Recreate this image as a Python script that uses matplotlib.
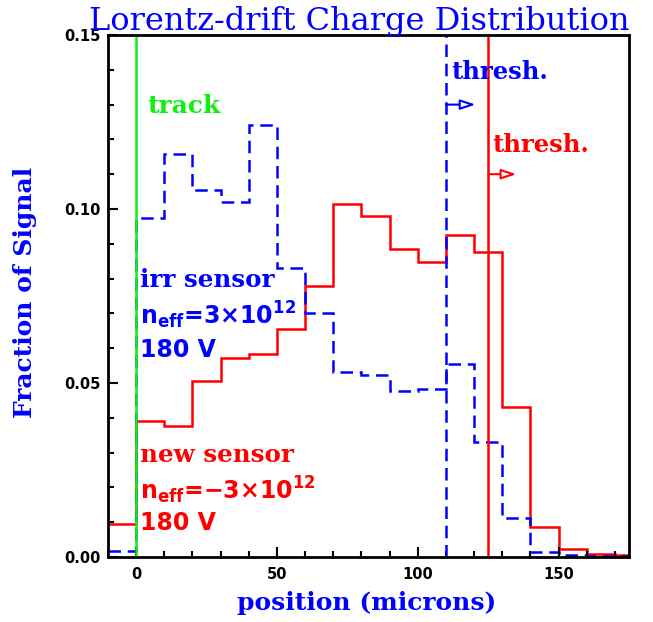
import numpy as np
import matplotlib
matplotlib.use("Agg")
import matplotlib.pyplot as plt
from matplotlib.ticker import MultipleLocator

plt.rcParams['mathtext.fontset'] = 'custom'
plt.rcParams['mathtext.rm'] = 'DejaVu Sans:bold'
plt.rcParams['mathtext.it'] = 'DejaVu Sans:bold'
plt.rcParams['mathtext.bf'] = 'DejaVu Sans:bold'

# bin edges (microns), 10 micron bins
edges = np.arange(-10, 190, 10)

# new sensor (red, solid)
new_sensor = [0.0094, 0.0390, 0.0377, 0.0506, 0.0573, 0.0582, 0.0654, 0.0779,
              0.1013, 0.0980, 0.0884, 0.0847, 0.0925, 0.0876, 0.0430, 0.0087,
              0.0023, 0.0008, 0.0005]

# irradiated sensor (blue, dashed)
irr_sensor = [0.0018, 0.0975, 0.1157, 0.1055, 0.1021, 0.1240, 0.0831, 0.0700,
              0.0533, 0.0522, 0.0476, 0.0483, 0.0554, 0.0331, 0.0113, 0.0015,
              0.0005, 0.0003, 0.0002]

track_x = 0
irr_thresh = 110
new_thresh = 125

serif = 'DejaVu Serif'
sans = 'DejaVu Sans'
dash = (0, (5, 2.7))

fig = plt.figure(figsize=(6.53, 6.22), dpi=100)
ax = fig.add_axes([108/653, 1-557/622, (629-108)/653, (557-35)/622])

ax.stairs(new_sensor, edges, baseline=None, color='red', lw=1.8)
ax.stairs(irr_sensor, edges, baseline=None, color='blue', lw=1.8, linestyle=dash)

ax.axvline(track_x, color='#11ee11', lw=1.8)
ax.axvline(irr_thresh, color='blue', lw=1.8, linestyle=dash)
ax.axvline(new_thresh, color='red', lw=1.8)

# threshold arrows
ax.annotate("", xy=(120.5, 0.130), xytext=(irr_thresh, 0.130),
            arrowprops=dict(arrowstyle='-|>,head_length=0.9,head_width=0.3',
                            color='blue', fc='white', lw=1.5, shrinkA=0, shrinkB=0))
ax.annotate("", xy=(135, 0.110), xytext=(new_thresh, 0.110),
            arrowprops=dict(arrowstyle='-|>,head_length=0.9,head_width=0.3',
                            color='red', fc='white', lw=1.5, shrinkA=0, shrinkB=0))

# labels
ax.text(4, 0.1295, "track", color='#11ee11', family=serif, weight='bold',
        fontsize=18, va='center')
ax.text(112, 0.1395, "thresh.", color='blue', family=serif, weight='bold',
        fontsize=17.5, va='center')
ax.text(126.5, 0.1185, "thresh.", color='red', family=serif, weight='bold',
        fontsize=17.5, va='center')

ax.text(1.5, 0.0795, "irr sensor", color='blue', family=serif, weight='bold',
        fontsize=17.7, va='center')
ax.text(1.5, 0.0695, r"n$_{eff}$=3×10$^{12}$", color='blue', family=sans,
        weight='bold', fontsize=17, va='center')
ax.text(1.5, 0.0595, "180 V", color='blue', family=sans, weight='bold',
        fontsize=17, va='center')

ax.text(1.5, 0.0293, "new sensor", color='red', family=serif, weight='bold',
        fontsize=17.7, va='center')
ax.text(1.5, 0.0193, r"n$_{eff}$=−3×10$^{12}$", color='red', family=sans,
        weight='bold', fontsize=17, va='center')
ax.text(1.5, 0.0097, "180 V", color='red', family=sans, weight='bold',
        fontsize=17, va='center')

ax.set_xlim(-10, 175)
ax.set_ylim(0, 0.15)
ax.xaxis.set_major_locator(MultipleLocator(50))
ax.xaxis.set_minor_locator(MultipleLocator(10))
ax.yaxis.set_major_locator(MultipleLocator(0.05))
ax.yaxis.set_minor_locator(MultipleLocator(0.01))
ax.set_yticks([0, 0.05, 0.10, 0.15])
ax.set_yticklabels(["0.00", "0.05", "0.10", "0.15"])
ax.tick_params(which='both', direction='in', width=1.5, top=False, right=False)
ax.tick_params(which='major', length=7.5)
ax.tick_params(which='minor', length=4)
ax.tick_params(axis='x', pad=7)
ax.tick_params(axis='y', pad=5)
for lab in ax.get_xticklabels() + ax.get_yticklabels():
    lab.set_family(sans)
    lab.set_weight('bold')
    lab.set_fontsize(10.5)
for s in ax.spines.values():
    s.set_linewidth(2)

fig.text(359/653, 1-30/622, "Lorentz-drift Charge Distribution", color='blue',
         family=serif, fontsize=23, ha='center', va='baseline')
fig.text(367/653, 1-603/622, "position (microns)", color='blue', family=serif,
         weight='bold', fontsize=18, ha='center', va='center')
fig.text(25/653, 1-292/622, "Fraction of Signal", color='blue', family=serif,
         weight='bold', fontsize=18, ha='center', va='center', rotation=90)

fig.savefig("out.png", dpi=100)
